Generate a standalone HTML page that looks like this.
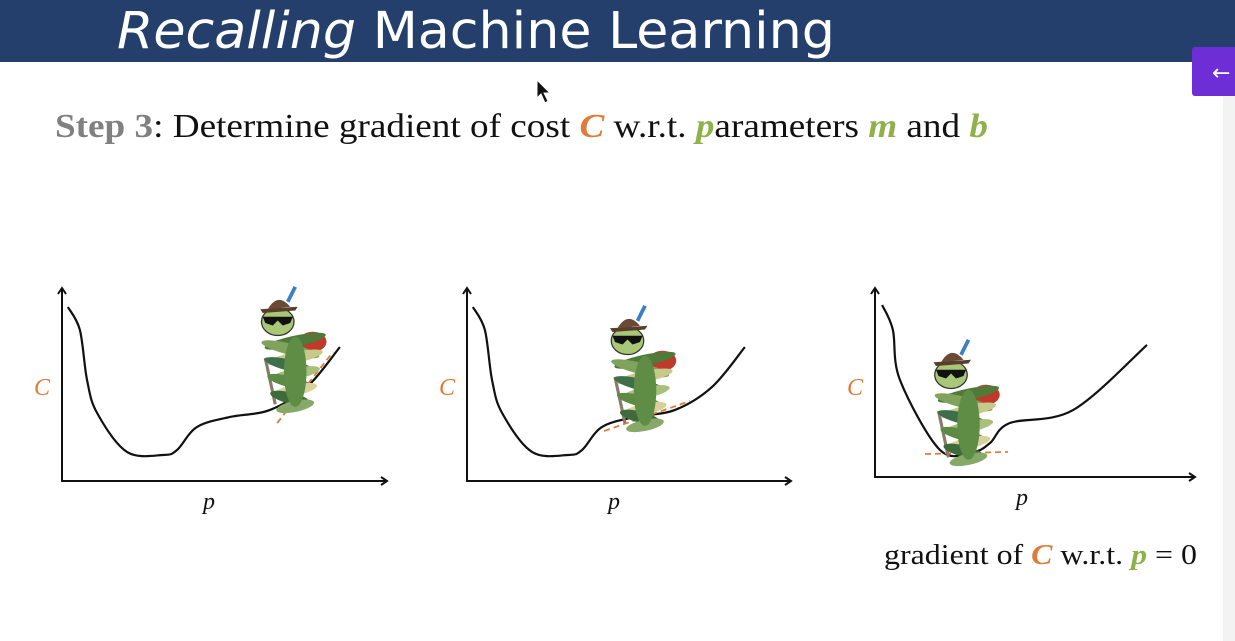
<!DOCTYPE html>
<html><head><meta charset="utf-8"><style>
html,body{margin:0;padding:0;width:1235px;height:641px;overflow:hidden;background:#fff}
svg{display:block}
</style></head><body>
<svg id="slide" width="1235" height="641" xmlns="http://www.w3.org/2000/svg">
<rect x="0" y="0" width="1235" height="62" fill="#243f6b"/>
<rect x="1223" y="62" width="12" height="579" fill="#f3f3f3"/>
<text x="117" y="48" font-family="'DejaVu Sans','Liberation Sans',sans-serif" font-size="51" textLength="718" lengthAdjust="spacingAndGlyphs" fill="#fff"><tspan font-style="italic">Recalling</tspan> Machine Learning</text>
<g>
<rect x="1192" y="47" width="50" height="49" rx="3" fill="#6d2ed6"/>
<text x="1212" y="80" font-family="'DejaVu Sans',sans-serif" font-size="22" fill="#fff">←</text>
</g>
<path d="M537 80 L537 98 L541 94 L545 103 L548 101 L544 93 L550 93 Z" fill="#111" stroke="#fff" stroke-width="1"/>
<text x="55" y="137" font-family="'Liberation Serif',serif" font-size="34" textLength="933" lengthAdjust="spacingAndGlyphs" fill="#111"><tspan fill="#808080" font-weight="bold">Step 3</tspan>: Determine gradient of cost <tspan fill="#e07b39" font-weight="bold" font-style="italic">C</tspan> w.r.t. <tspan fill="#8fb04a" font-weight="bold" font-style="italic">p</tspan>arameters <tspan fill="#8fb04a" font-weight="bold" font-style="italic">m</tspan> and <tspan fill="#8fb04a" font-weight="bold" font-style="italic">b</tspan></text>
<text x="884" y="564" font-family="'Liberation Serif',serif" font-size="29" textLength="313" lengthAdjust="spacingAndGlyphs" fill="#111">gradient of <tspan fill="#e07b39" font-weight="bold" font-style="italic">C</tspan> w.r.t. <tspan fill="#8fb04a" font-weight="bold" font-style="italic">p</tspan> = 0</text>
<g id="charts"></g>
</svg>
<script>
// cost curve data (p in 0-100, C in 0-100)
const curveP = [1.8, 5.5, 7.7, 10.8, 20, 31.1, 35.4, 41.5, 51.7, 64, 75.4, 85.5];
const curveC = [91.6, 79.5, 53.2, 35.8, 15.3, 13.7, 16.3, 28.4, 33.7, 37.4, 49.5, 70.5];
const curve3P = [2.2, 5.5, 7.7, 20, 30.2, 35.4, 41.5, 61, 83.7];
const curve3C = [90.5, 77.4, 51, 14.2, 13.2, 17.9, 28.4, 35.3, 69.5];
// tangent lines [p1,C1,p2,C2] per chart
const tangent1 = [66.2, 30.5, 83.4, 67.9];
const tangent2 = [42.2, 26.3, 68.6, 42.1];
const tangent3 = [15.4, 12.1, 40.9, 13.2];
// bug positions [p, C] per chart
const bugPos = [[71, 68], [54, 58], [28, 38]];

const NS = "http://www.w3.org/2000/svg";
const root = document.getElementById('charts');
function mk(tag, attrs, parent) {
  const e = document.createElementNS(NS, tag);
  for (const k in attrs) e.setAttribute(k, attrs[k]);
  (parent || root).appendChild(e);
  return e;
}
const charts = [
  {ax: 62, ay: 481, top: 288, right: 387, P: curveP, C: curveC, t: tangent1, b: bugPos[0]},
  {ax: 467, ay: 481, top: 288, right: 791, P: curveP, C: curveC, t: tangent2, b: bugPos[1]},
  {ax: 875, ay: 477, top: 288, right: 1195, P: curve3P, C: curve3C, t: tangent3, b: bugPos[2]}
];
charts.forEach((ch, i) => {
  const g = mk('g', {});
  
  
  const xs = p => ch.ax + p * 3.25;
  const ys = c => ch.ay - c * 1.9;
  const axes = mk('path', {d: `M${ch.ax} ${ch.top} L${ch.ax} ${ch.ay} L${ch.right} ${ch.ay} M${ch.ax-4} ${ch.top+6} L${ch.ax} ${ch.top} L${ch.ax+4} ${ch.top+6} M${ch.right-6} ${ch.ay-4} L${ch.right} ${ch.ay} L${ch.right-6} ${ch.ay+4}`, fill: 'none', stroke: '#111', 'stroke-width': 2}, g);
  
  
  const yl = mk('text', {x: ch.ax - 28, y: 395, 'font-family': "'Liberation Serif',serif", 'font-style': 'italic', 'font-size': 24, fill: '#e07b39'}, g);
  yl.textContent = 'C';
  
  
  const xl = mk('text', {x: ch.ax + 141, y: ch.ay + 28, 'font-family': "'Liberation Serif',serif", 'font-style': 'italic', 'font-size': 24, fill: '#111'}, g);
  xl.textContent = 'p';
  
  
  const pts = ch.P.map((p, k) => [xs(p), ys(ch.C[k])]);
  let d = `M${pts[0][0]} ${pts[0][1]}`;
  for (let k = 0; k < pts.length - 1; k++) {
    const p0 = pts[Math.max(0, k - 1)], p1 = pts[k], p2 = pts[k + 1], p3 = pts[Math.min(pts.length - 1, k + 2)];
    d += ` C${p1[0] + (p2[0] - p0[0]) / 6} ${p1[1] + (p2[1] - p0[1]) / 6} ${p2[0] - (p3[0] - p1[0]) / 6} ${p2[1] - (p3[1] - p1[1]) / 6} ${p2[0]} ${p2[1]}`;
  }
  const cv = mk('path', {d, fill: 'none', stroke: '#111', 'stroke-width': 2.2}, g);
  
  
  const tg = mk('line', {x1: xs(ch.t[0]), y1: ys(ch.t[1]), x2: xs(ch.t[2]), y2: ys(ch.t[3]), stroke: '#e07b39', 'stroke-width': 1.8, 'stroke-dasharray': '6 4'}, g);
  
  
  const bx = xs(ch.b[0]), by = ys(ch.b[1]);
  const bug = mk('g', {transform: `translate(${bx},${by}) scale(1.25)`}, g);
  
  
  mk('line', {x1: -22, y1: 5, x2: -14, y2: 42, stroke: '#8a7a6a', 'stroke-width': 2.5}, bug);
  mk('ellipse', {cx: 16, cy: -8, rx: 11, ry: 8, fill: '#c0392b'}, bug);
  const cols = ['#4f7a3a', '#7fa35a', '#c7c98a', '#3f6e4a', '#a7c07a', '#5d8a44', '#d8d29a', '#3e6b3b', '#86a968'];
  for (let k = 0; k < 9; k++) {
    mk('ellipse', {cx: (k % 2 ? -2 : 2), cy: -8 + k * 6.5, rx: 25 - k * 1.2, ry: 4.5, fill: cols[k], transform: `rotate(${k % 2 ? 14 : -12} 0 ${-8 + k * 6.5})`}, bug);
  }
  mk('ellipse', {cx: 2, cy: 16, rx: 9, ry: 28, fill: '#5f8d45'}, bug);
  mk('ellipse', {cx: -12, cy: -24, rx: 13, ry: 11, fill: '#a8c878', stroke: '#333', 'stroke-width': 1}, bug);
  mk('path', {d: 'M-24 -28 L0 -28 L-2 -23 L-8 -21 L-12 -25 L-16 -21 L-22 -23 Z', fill: '#111'}, bug);
  mk('path', {d: 'M-26 -34 L4 -36 L2 -33 L-24 -31 Z', fill: '#5a3d2b'}, bug);
  mk('path', {d: 'M-20 -34 Q-12 -48 -2 -36 Z', fill: '#6b4a35'}, bug);
  mk('line', {x1: -4, y1: -40, x2: 2, y2: -52, stroke: '#3b7fc4', 'stroke-width': 3}, bug);
});
</script>
</body></html>
